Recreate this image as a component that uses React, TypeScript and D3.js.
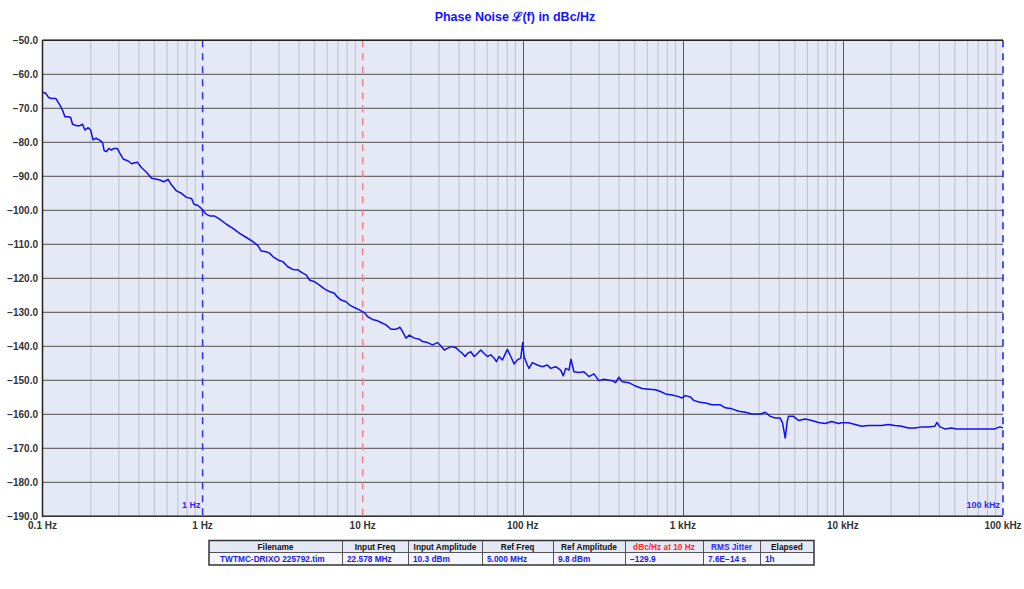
import React from "react";
import * as d3 from "d3";

const title = "Phase Noise \u2112(f) in dBc/Hz";

const freqHz: number[] = [
  0.1, 0.105, 0.109, 0.114, 0.121, 0.129, 0.134, 0.138, 0.145, 0.15, 0.154, 0.163, 0.171, 0.178, 0.184, 0.193,
  0.2, 0.207, 0.216, 0.226, 0.237, 0.243, 0.251, 0.26, 0.27, 0.279, 0.293, 0.304, 0.319, 0.343, 0.36, 0.377,
  0.392, 0.416, 0.446, 0.48, 0.51, 0.54, 0.572, 0.609, 0.639, 0.687, 0.738, 0.793, 0.852, 0.884, 0.936, 0.99,
  1.056, 1.118, 1.19, 1.278, 1.408, 1.547, 1.703, 1.876, 2.062, 2.215, 2.326, 2.499, 2.62, 2.748, 2.953, 3.171,
  3.407, 3.661, 3.933, 4.226, 4.437, 4.653, 5.0, 5.372, 5.771, 6.2, 6.662, 6.925, 7.334, 7.88, 8.262, 8.878,
  9.537, 10.25, 10.75, 11.54, 12.4, 13.02, 13.99, 15.03, 16.15, 17.11, 17.76, 18.65, 19.56, 21.01, 22.57, 23.66,
  25.43, 27.32, 29.35, 30.82, 32.32, 33.88, 35.57, 38.21, 40.07, 42.01, 43.68, 45.14, 47.4, 49.7, 52.12, 54.72,
  57.37, 60.15, 63.17, 66.23, 68.46, 71.16, 74.61, 80.17, 84.18, 88.27, 92.55, 97.16, 100, 101.9, 106.8, 109.5,
  114.8, 123.3, 132.5, 142.4, 149.5, 160.6, 172.6, 179.1, 185.4, 194.4, 200, 208.9, 224.4, 241.1, 259, 278.3,
  299, 321.3, 361.9, 380, 398.6, 417.8, 459.9, 506.3, 556.7, 613.1, 674.9, 725.1, 778.8, 856.1, 942.8, 988.5,
  1038, 1115, 1170, 1256, 1383, 1521, 1716, 1843, 2027, 2231, 2457, 2700, 3047, 3273, 3517, 3778,
  4059, 4196, 4362, 4488, 4573, 4913, 5279, 5812, 6390, 7034, 7745, 8514, 9375, 9829, 10820, 11920,
  13100, 14420, 15880, 17460, 19220, 21160, 23260, 25610, 28190, 31000, 34120, 37570, 38670, 40370, 43370, 47680,
  51240, 55040, 60590, 66710, 73340, 80740, 88900, 95500, 100000,
];

const noiseDbc: number[] = [
  -65.3, -65.6, -66.8, -67.1, -67.1, -69.2, -70.8, -72.5, -72.5, -72.7, -74.7, -75.1, -75.1, -74.7, -76.4, -75.7,
  -76.4, -79.3, -78.8, -79.3, -80.0, -82.5, -82.7, -81.8, -82.3, -81.8, -81.8, -83.2, -84.9, -85.5, -86.3, -86.0,
  -85.9, -87.5, -88.8, -90.6, -90.8, -91.1, -91.6, -90.9, -92.5, -94.3, -95.0, -96.2, -96.5, -98.2, -98.6, -99.6,
  -101.2, -101.7, -101.7, -102.6, -104.1, -105.3, -106.8, -108.0, -109.2, -110.4, -112.0, -112.2, -112.6, -113.6, -114.6, -115.1,
  -116.6, -117.4, -117.5, -118.5, -119.0, -120.5, -121.0, -122.0, -123.1, -123.9, -124.4, -125.4, -126.4, -126.9, -127.8, -128.6,
  -129.3, -130.1, -131.3, -132.1, -132.5, -133.0, -133.7, -135.0, -135.0, -134.4, -135.7, -137.6, -136.7, -137.6, -137.9, -138.6,
  -138.9, -139.6, -138.9, -139.9, -141.1, -140.6, -140.1, -140.4, -141.3, -142.1, -143.0, -142.1, -141.6, -143.0, -142.1, -141.1,
  -142.1, -143.0, -142.5, -143.5, -144.5, -143.0, -144.0, -140.9, -143.0, -145.2, -144.0, -143.5, -138.9, -143.0, -145.5, -146.5,
  -144.8, -145.5, -146.0, -145.5, -146.5, -146.0, -147.0, -148.7, -146.5, -147.0, -143.8, -147.5, -147.7, -147.5, -148.9, -148.1,
  -150.1, -149.7, -150.1, -150.7, -149.1, -150.4, -150.7, -151.7, -152.4, -152.6, -152.8, -153.3, -154.0, -154.3, -154.8, -155.2,
  -154.5, -154.9, -155.9, -156.4, -156.7, -157.2, -157.2, -158.1, -158.4, -159.1, -159.4, -159.9, -159.9, -159.4, -160.6, -161.1,
  -161.1, -162.5, -167.0, -162.1, -160.6, -160.6, -161.8, -161.4, -161.8, -162.4, -162.7, -162.1, -162.7, -162.5, -162.5, -163.0,
  -163.5, -163.3, -163.3, -163.3, -163.0, -163.3, -163.5, -164.0, -164.0, -163.7, -163.7, -163.5, -162.4, -163.7, -164.3, -164.0,
  -164.3, -164.3, -164.3, -164.3, -164.3, -164.3, -164.3, -163.7, -164.0,
];

const yTicks: number[] = [-50, -60, -70, -80, -90, -100, -110, -120, -130, -140, -150, -160, -170, -180, -190];
const xDecades: number[] = [0.1, 1, 10, 100, 1000, 10000, 100000];
const xTickLabels: string[] = ["0.1 Hz", "1 Hz", "10 Hz", "100 Hz", "1 kHz", "10 kHz", "100 kHz"];
const solidDecades: number[] = [100, 1000, 10000];

const tableHeaders: string[] = ["Filename", "Input Freq", "Input Amplitude", "Ref Freq", "Ref Amplitude", "dBc/Hz at 10 Hz", "RMS Jitter", "Elapsed"];
const tableValues: string[] = ["TWTMC-DRIXO 225792.tim", "22.578 MHz", "10.3 dBm", "5.000 MHz", "9.8 dBm", "\u2212129.9", "7.6E\u221214 s", "1h"];
const tableHeaderColors: string[] = ["#111", "#111", "#111", "#111", "#111", "#ff2a2a", "#2a2aff", "#111"];
const tableColEdges: number[] = [209, 342, 408, 482, 553, 625, 703, 760, 814];

const FONT = "'Liberation Sans', Arial, sans-serif";

export default function App() {
  const left = 42.5, right = 1003, top = 40.3, bottom = 516.3;
  const x = d3.scaleLog().domain([0.1, 1e5]).range([left, right]);
  const y = d3.scaleLinear().domain([-190, -50]).range([bottom, top]);
  const px = (v: number) => Math.round(v) + 0.5;

  const minor: number[] = [];
  for (let k = 0; k < xDecades.length - 1; k++) {
    for (let m = 2; m <= 9; m++) minor.push(xDecades[k] * m);
  }

  const pts = freqHz.map((f, i) => [f, noiseDbc[i]] as [number, number]);
  const lineGen = d3.line<[number, number]>().x((d) => x(d[0])).y((d) => y(d[1]));
  const path = lineGen(pts) || "";

  const fmt = (v: number) => (v < 0 ? "\u2212" + Math.abs(v).toFixed(1) : v.toFixed(1));

  const tTop = 540.5, tMid = 552.5, tBot = 565;
  const tW = tableColEdges[tableColEdges.length - 1] - tableColEdges[0];

  return (
    <svg width={1024} height={589} style={{ position: "fixed", left: 0, top: 0, display: "block", background: "#fff" }} fontFamily={FONT}>
      <text x={515} y={21} textAnchor="middle" fontSize={12.5} fontWeight="bold" fill="#1414ff">{title}</text>
      <rect x={left} y={top} width={right - left} height={bottom - top} fill="#e4e9f5" />
      {minor.map((f, i) => (
        <line key={"mn" + i} x1={x(f)} x2={x(f)} y1={top} y2={bottom} stroke="#c3c8d4" strokeWidth={1.2} />
      ))}
      {yTicks.map((t) => (
        <line key={"hy" + t} x1={left} x2={right} y1={y(t)} y2={y(t)} stroke="#6e6e6e" strokeWidth={1.2} />
      ))}
      {solidDecades.map((f) => (
        <line key={"dv" + f} x1={px(x(f))} x2={px(x(f))} y1={top} y2={bottom} stroke="#5a5a5a" strokeWidth={1} />
      ))}
      <line x1={x(1)} x2={x(1)} y1={top} y2={bottom} stroke="#2e2eff" strokeWidth={1.5} strokeDasharray="7,6" />
      <line x1={x(10)} x2={x(10)} y1={top} y2={bottom} stroke="#f08585" strokeWidth={1.6} strokeDasharray="7,6" />
      <line x1={x(1e5)} x2={x(1e5)} y1={top} y2={bottom} stroke="#1a1aff" strokeWidth={1.5} strokeDasharray="7,6" />
      <text x={x(1) - 2} y={508} textAnchor="end" fontSize={9} fontWeight="bold" fill="#2a2aff">1 Hz</text>
      <text x={x(1e5) - 3} y={508} textAnchor="end" fontSize={9} fontWeight="bold" fill="#2a2aff">100 kHz</text>
      <path d={path} fill="none" stroke="#1010f0" strokeWidth={1.5} strokeLinejoin="round" />
      <line x1={left} x2={left} y1={top} y2={bottom + 1} stroke="#222" strokeWidth={1.5} />
      <line x1={left} x2={right} y1={top} y2={top} stroke="#222" strokeWidth={1.5} />
      <line x1={left} x2={right} y1={bottom} y2={bottom} stroke="#333" strokeWidth={1.5} />
      {yTicks.map((t) => (
        <text key={"yl" + t} x={38} y={y(t) + 4} textAnchor="end" fontSize={10} fontWeight="bold" fill="#333">{fmt(t)}</text>
      ))}
      {xDecades.map((f, i) => (
        <text key={"xl" + f} x={x(f)} y={529} textAnchor="middle" fontSize={10} fontWeight="bold" fill="#333">{xTickLabels[i]}</text>
      ))}
      <rect x={tableColEdges[0]} y={tTop} width={tW} height={tMid - tTop} fill="#e3e8f4" />
      <rect x={tableColEdges[0]} y={tMid} width={tW} height={tBot - tMid} fill="#f4f6fb" />
      {tableColEdges.slice(1, -1).map((e, i) => (
        <line key={"tc" + i} x1={e + 0.5} x2={e + 0.5} y1={tTop} y2={tBot} stroke="#555" strokeWidth={1} />
      ))}
      <line x1={tableColEdges[0]} x2={tableColEdges[tableColEdges.length - 1]} y1={tMid} y2={tMid} stroke="#555" strokeWidth={1} />
      <rect x={tableColEdges[0]} y={tTop} width={tW} height={tBot - tTop} fill="none" stroke="#333" strokeWidth={1.5} />
      {tableHeaders.map((h, i) => (
        <text key={"th" + i} x={(tableColEdges[i] + tableColEdges[i + 1]) / 2} y={550} textAnchor="middle" fontSize={8.3} fontWeight="bold" fill={tableHeaderColors[i]}>{h}</text>
      ))}
      {tableValues.map((v, i) => (
        <text key={"tv" + i} x={tableColEdges[i] + (i === 0 ? 11 : 5)} y={562} fontSize={8.3} fontWeight="bold" fill="#2020e0">{v}</text>
      ))}
    </svg>
  );
}
